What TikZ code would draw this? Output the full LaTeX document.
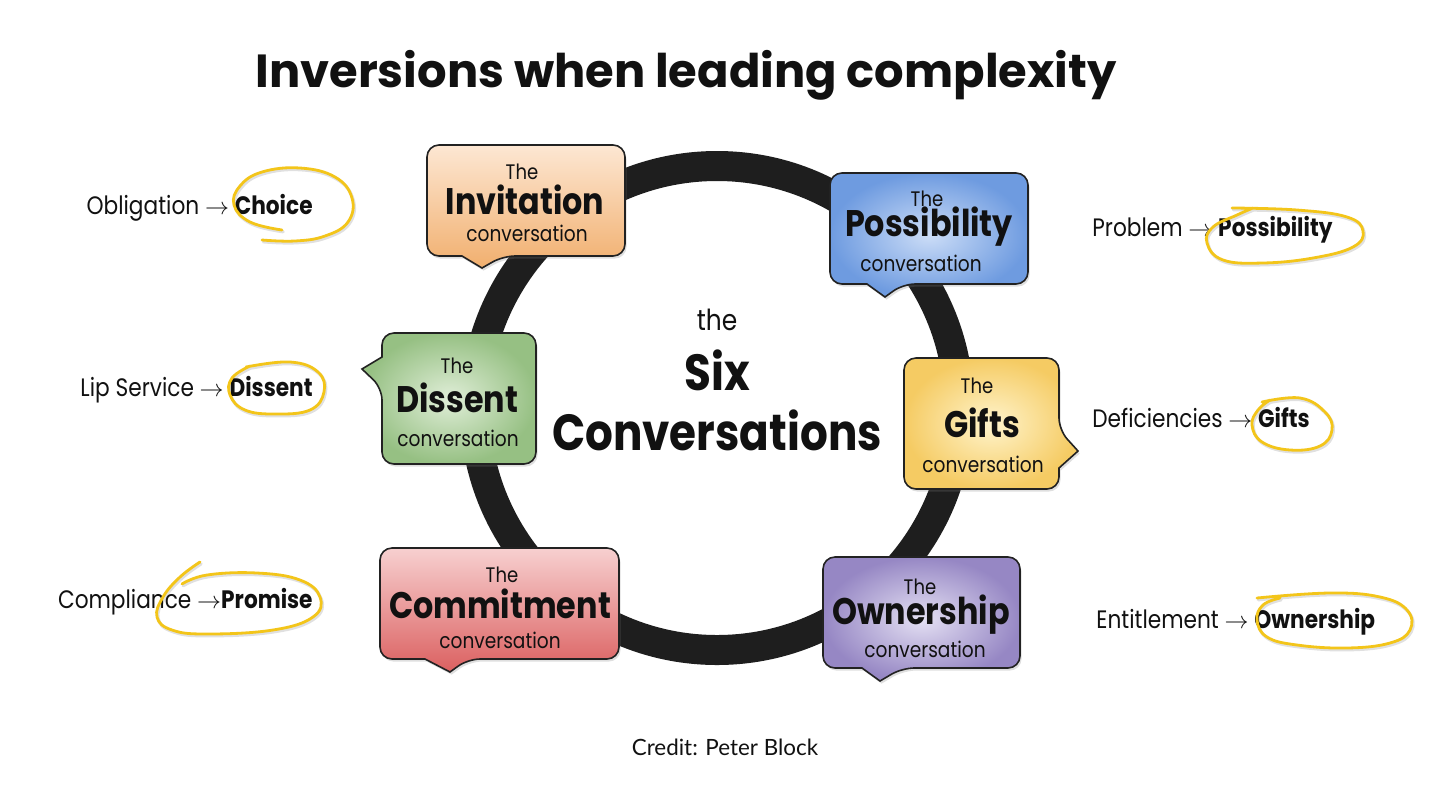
\documentclass[tikz,border=0pt]{standalone}
\usepackage{fontspec}
\setmainfont{Poppins}
\newfontfamily\jost[FakeStretch=0.86]{Poppins}
\newfontfamily\credfont{Lato}
\usetikzlibrary{shadows}
\definecolor{ringc}{HTML}{1E1E1E}
\definecolor{boxline}{HTML}{222222}
\definecolor{txt}{HTML}{111111}
\definecolor{hl}{HTML}{F3C51A}
\definecolor{orA}{HTML}{FDE7D3}
\definecolor{orB}{HTML}{F1AF6E}
\definecolor{blA}{HTML}{CCDDF7}
\definecolor{blB}{HTML}{6E9BE0}
\definecolor{grA}{HTML}{E0EED8}
\definecolor{grB}{HTML}{96C083}
\definecolor{yeA}{HTML}{FFF4CC}
\definecolor{yeB}{HTML}{F5CB63}
\definecolor{reA}{HTML}{F7D0D0}
\definecolor{reB}{HTML}{DB6060}
\definecolor{puA}{HTML}{E4E0F3}
\definecolor{puB}{HTML}{9687C4}
\tikzset{
  box/.style={draw=boxline, line width=0.8pt, rounded corners=6pt,
    drop shadow={opacity=0.25, shadow xshift=0.8pt, shadow yshift=-1.3pt}},
  thet/.style={font=\jost\fontsize{10.5}{12}\selectfont, text=txt, inner sep=0pt},
  boxname/.style={font=\jost\bfseries\fontsize{18.5}{20}\selectfont, text=txt, inner sep=0pt},
  conv/.style={font=\jost\fontsize{10.8}{12}\selectfont, text=txt, inner sep=0pt},
  lbl/.style={font=\jost\fontsize{12.6}{14}\selectfont, text=txt, inner sep=0pt},
  hand/.style={draw=hl, line width=1.4pt, line cap=round, line join=round},
  handsh/.style={draw=black, opacity=0.12, line width=1.6pt, line cap=round, line join=round, xshift=0.6pt, yshift=-0.9pt}
}
\begin{document}
\begin{tikzpicture}[x=0.5pt, y=-0.5pt]
\useasboundingbox (0,0) rectangle (1440,810);
\fill[white] (0,0) rectangle (1440,810);

% title
\node[font=\bfseries\fontsize{23.2}{26}\selectfont, text=txt, inner sep=0pt] (title) at (686,75) {Inversions when leading complexity};

% ring
\node[circle, draw=ringc, line width=15pt, minimum size=242pt, inner sep=0pt] (ring) at (717,408) {};

% center text
\node[font=\jost\fontsize{14.5}{16}\selectfont, text=txt, inner sep=0pt] (cthe) at (717,320) {the};
\node[font=\jost\bfseries\fontsize{25.4}{28}\selectfont, text=txt, inner sep=0pt] (csix) at (717,370) {Six};
\node[font=\jost\bfseries\fontsize{25.4}{28}\selectfont, text=txt, inner sep=0pt] (cconv) at (717,430) {Conversations};

% Invitation
\path[box, top color=orA, bottom color=orB] (526,145) -- (625,145) -- (625,256) -- (503,256) [sharp corners] -- (482,268) -- (462,256) [rounded corners=6pt] -- (427,256) -- (427,145) -- cycle;
\node[thet] (invT) at (522,172) {The};
\node[boxname] (invN) at (525,200) {Invitation};
\node[conv] (invC) at (527,233) {conversation};

% Possibility
\path[box, inner color=blA, outer color=blB] (929,173) -- (1028,173) -- (1028,284) -- (903,284) [sharp corners] -- (885,297) -- (867,284) [rounded corners=6pt] -- (830,284) -- (830,173) -- cycle;
\node[thet] (posT) at (927,199) {The};
\node[boxname] (posN) at (929,227) {Possibility};
\node[conv] (posC) at (921,263) {conversation};

% Dissent
\path[box, inner color=grA, outer color=grB] (459,333) -- (536,333) -- (536,464) -- (382,464) -- (382,388) [sharp corners] -- (362,369) -- (382,357) [rounded corners=6pt] -- (382,333) -- cycle;
\node[thet] (disT) at (457,366) {The};
\node[boxname] (disN) at (457,398) {Dissent};
\node[conv] (disC) at (458,438) {conversation};

% Gifts
\path[box, inner color=yeA, outer color=yeB] (981,358) -- (1059,358) -- (1059,430) [sharp corners] -- (1078,451) -- (1059,468) [rounded corners=6pt] -- (1059,489) -- (904,489) -- (904,358) -- cycle;
\node[thet] (gifT) at (977,386) {The};
\node[boxname] (gifN) at (982,423) {Gifts};
\node[conv] (gifC) at (983,464) {conversation};

% Commitment
\path[box, top color=reA, bottom color=reB] (500,548) -- (619,548) -- (619,659) -- (468,659) [sharp corners] -- (450,672) -- (425,659) [rounded corners=6pt] -- (380,659) -- (380,548) -- cycle;
\node[thet] (comT) at (502,575) {The};
\node[boxname] (comN) at (500,604) {Commitment};
\node[conv] (comC) at (500,640) {conversation};

% Ownership
\path[box, inner color=puA, outer color=puB] (921,557) -- (1020,557) -- (1020,668) -- (902,668) [sharp corners] -- (880,681) -- (862,668) [rounded corners=6pt] -- (823,668) -- (823,557) -- cycle;
\node[thet] (ownT) at (920,587) {The};
\node[boxname] (ownN) at (921,615) {Ownership};
\node[conv] (ownC) at (925,649) {conversation};

% side labels
\node[lbl, anchor=east] (l1) at (313,208) {Obligation $\rightarrow$ \textbf{Choice}};
\node[lbl, anchor=east] (l2) at (313,390) {Lip Service $\rightarrow$ \textbf{Dissent}};
\node[lbl, anchor=east] (l3) at (313,602) {Compliance $\rightarrow$\textbf{Promise}};
\node[lbl, anchor=west] (r1) at (1092,230) {Problem $\rightarrow$ \textbf{Possibility}};
\node[lbl, anchor=west] (r2) at (1092,418) {Deficiencies $\rightarrow$ \textbf{Gifts}};
\node[lbl, anchor=west] (r3) at (1096,622) {Entitlement $\rightarrow$ \textbf{Ownership}};

% hand-drawn circles
\foreach \st in {handsh, hand} {
  \draw[\st] plot[smooth, tension=0.7] coordinates {(282,230) (250,222) (234,205) (240,186) (262,172) (300,168) (335,177) (352,198) (348,222) (325,236) (295,241) (262,240)};
  \draw[\st] plot[smooth, tension=0.7] coordinates {(246,367) (290,362) (318,372) (324,392) (310,410) (275,414) (245,410) (230,395) (232,378) (250,366)};
  \draw[\st] plot[smooth, tension=0.7] coordinates {(200,562) (180,577) (163,597) (157,617) (172,630) (207,634) (273,630) (313,617) (320,597) (300,580) (257,573) (207,575) (182,584)};
  \draw[\st] plot[smooth, tension=0.7] coordinates {(1232,208) (1297,210) (1347,217) (1363,231) (1353,247) (1313,258) (1263,263) (1223,260) (1207,243) (1213,227) (1237,215) (1253,208)};
  \draw[\st] plot[smooth, tension=0.7] coordinates {(1262,402) (1300,398) (1325,412) (1332,430) (1320,446) (1290,450) (1262,442) (1252,425) (1258,410) (1270,400)};
  \draw[\st] plot[smooth, tension=0.7] coordinates {(1257,598) (1330,593) (1380,597) (1407,610) (1410,630) (1390,643) (1347,648) (1297,645) (1267,637) (1257,620) (1263,605) (1280,598)};
}

% credit
\node[font=\credfont\fontsize{11.2}{13}\selectfont, text=txt, inner sep=0pt] (credit) at (725,747) {Credit: Peter Block};
\end{tikzpicture}
\end{document}
